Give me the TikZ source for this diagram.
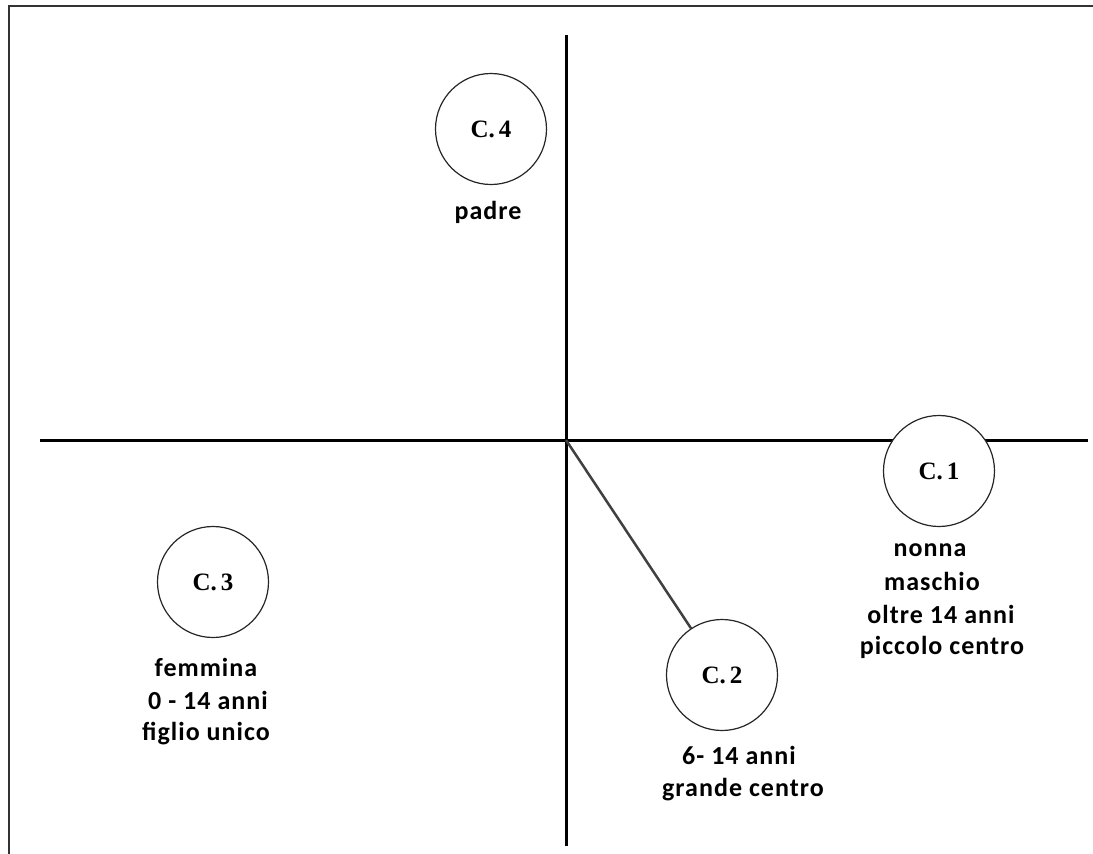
\documentclass[tikz,border=0pt]{standalone}
\usepackage{fontspec}
\setmainfont{Liberation Serif}
\newfontfamily\labelfont[LetterSpace=4]{Carlito}
\begin{document}
\begin{tikzpicture}[x=1pt,y=-1pt,
  frameline/.style={draw=black!80, line width=2.5pt},
  axis/.style={draw=black, line width=3pt},
  cluster/.style={circle, draw=black!85, line width=1.2pt, fill=white,
    minimum size=111pt, inner sep=0pt, font=\fontsize{25}{28}\selectfont\bfseries},
  caption/.style={font=\labelfont\fontsize{26}{30}\selectfont\bfseries, inner sep=0pt, anchor=center},
  link/.style={draw=black!75, line width=2.5pt}]
\useasboundingbox (0,0) rectangle (1093,854);
% outer frame (left and top edges)
\coordinate (fTL) at (9,6);
\coordinate (fBL) at (9,854);
\coordinate (fTR) at (1093,6);
\draw[frameline] (fBL) -- (fTL) -- (fTR);
% axes
\coordinate (xL) at (40,440);
\coordinate (xR) at (1088,440);
\coordinate (yT) at (566,35);
\coordinate (yB) at (566,846);
\coordinate (O) at (566,440);
\draw[axis] (xL) -- (xR);
\draw[axis] (yT) -- (yB);
% clusters
\node[cluster] (c4) at (491,129) {C.\,4};
\node[cluster] (c1) at (939,471) {C.\,1};
\node[cluster] (c3) at (213,582) {C.\,3};
\node[cluster] (c2) at (722,675) {C.\,2};
% link from origin to cluster 2
\draw[link] (O) -- (c2);
% captions
\node[caption] (l4) at (488,212) {padre};
\node[caption] (l1a) at (930,550) {nonna};
\node[caption] (l1b) at (932,581) {maschio};
\node[caption] (l1c) at (941,614) {oltre 14 anni};
\node[caption] (l1d) at (942,647) {piccolo centro};
\node[caption] (l3a) at (206,667) {femmina};
\node[caption] (l3b) at (208,700) {0 - 14 anni};
\node[caption] (l3c) at (206,734) {figlio unico};
\node[caption] (l2a) at (739,755) {6- 14 anni};
\node[caption] (l2b) at (743,790) {grande centro};
\end{tikzpicture}
\end{document}
